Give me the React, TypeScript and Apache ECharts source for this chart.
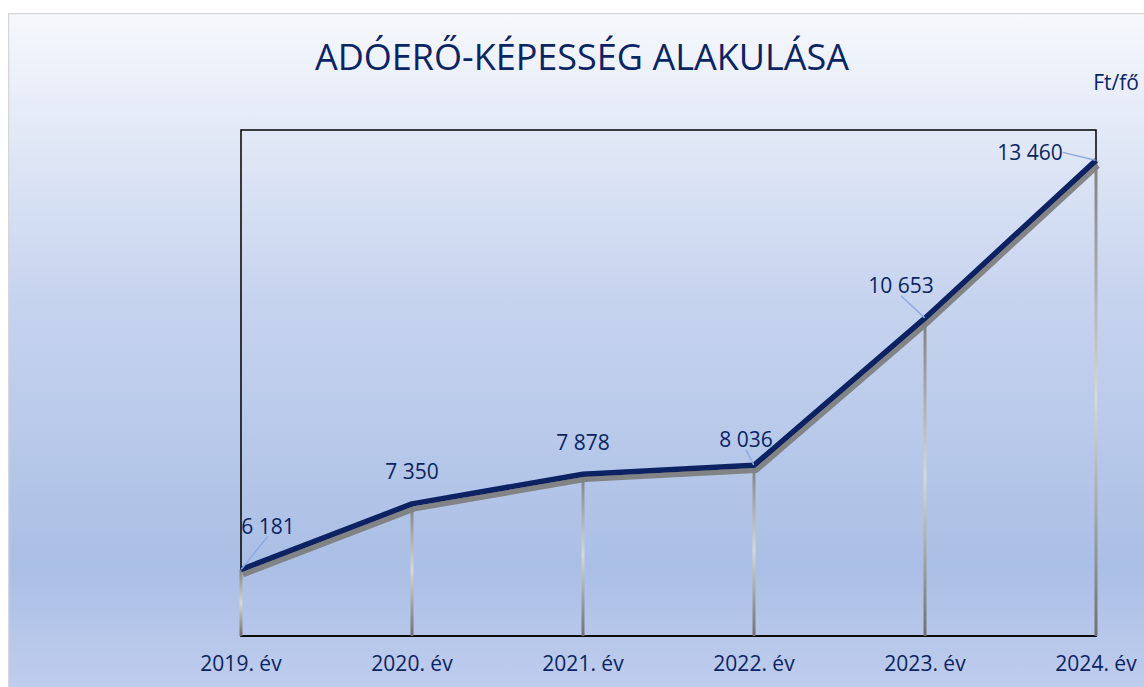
import React, { useEffect, useRef } from "react";
import * as echarts from "echarts";

const categories = ["2019. év", "2020. év", "2021. év", "2022. év", "2023. év", "2024. év"];
const values = [6181, 7350, 7878, 8036, 10653, 13460];
const labelTexts = ["6 181", "7 350", "7 878", "8 036", "10 653", "13 460"];
const labelShifts = [
  [27, -28],
  [0, -17],
  [0, -16],
  [-8, -10],
  [-24, -17],
  [-66, 8],
];
const leaderShown = [true, false, false, true, true, true];

const NAVY = "#0b2462";
const FONT = "'Open Sans', 'Noto Sans', sans-serif";

export default function App() {
  const ref = useRef<HTMLDivElement>(null);
  useEffect(() => {
    if (!ref.current) return;
    const chart = echarts.init(ref.current, null, { renderer: "svg" });
    const dropGrad = new echarts.graphic.LinearGradient(0, 0, 0, 1, [
      { offset: 0, color: "#808080" },
      { offset: 0.5, color: "#d8d8d8" },
      { offset: 1, color: "#707070" },
    ]);
    chart.setOption({
      animation: false,
      backgroundColor: new echarts.graphic.LinearGradient(0, 0, 0, 1, [
        { offset: 0, color: "#f6f8fc" },
        { offset: 0.42, color: "#c7d4ef" },
        { offset: 0.82, color: "#aabfe5" },
        { offset: 1, color: "#bfcdee" },
      ]),
      textStyle: { fontFamily: FONT },
      title: {
        text: "ADÓERŐ-KÉPESSÉG ALAKULÁSA",
        left: 569,
        top: 20,
        textAlign: "center",
        textStyle: { color: NAVY, fontSize: 36, fontWeight: "normal", fontFamily: FONT },
      },
      graphic: [
        {
          type: "line",
          shape: { x1: 0.5, y1: 0.5, x2: 0.5, y2: 700 },
          style: { stroke: "#d6d6d6", lineWidth: 1.5 },
        },
        {
          type: "line",
          shape: { x1: 0, y1: 0.5, x2: 1200, y2: 0.5 },
          style: { stroke: "#d6d6d6", lineWidth: 1.5 },
        },
        {
          type: "text",
          right: 5,
          top: 58,
          style: { text: "Ft/fő", fill: NAVY, fontSize: 21, fontFamily: FONT },
        },
      ],
      grid: {
        left: 233,
        right: 48,
        top: 117,
        bottom: 51,
        show: true,
        borderColor: "#000",
        borderWidth: 1.5,
        backgroundColor: "transparent",
      },
      xAxis: {
        type: "category",
        data: categories,
        boundaryGap: false,
        axisLine: { show: true, lineStyle: { color: "#000", width: 1.5 } },
        axisTick: { show: false },
        axisLabel: { color: NAVY, fontSize: 21, margin: 16, fontFamily: FONT },
        splitLine: { show: false },
      },
      yAxis: {
        type: "value",
        min: 5000,
        max: 14000,
        show: false,
        splitLine: { show: false },
      },
      series: [
        {
          type: "bar",
          data: values,
          barWidth: 3,
          itemStyle: { color: dropGrad },
          silent: true,
          z: 1,
        },
        {
          type: "line",
          data: values.map((v, i) => ({
            value: v,
            labelLine: { show: leaderShown[i] },
          })),
          symbol: "circle",
          symbolSize: 1,
          showSymbol: true,
          itemStyle: { color: "rgba(10,36,99,0)" },
          lineStyle: {
            color: "#0a2463",
            width: 5.5,
            shadowColor: "rgba(128,128,128,0.95)",
            shadowOffsetX: 2,
            shadowOffsetY: 5,
            shadowBlur: 0,
          },
          z: 3,
          label: {
            show: true,
            position: "top",
            distance: 5,
            color: NAVY,
            fontSize: 21,
            fontFamily: FONT,
            formatter: (p: any) => labelTexts[p.dataIndex],
          },
          labelLine: {
            show: true,
            lineStyle: { color: "#8eaae2", width: 1.5 },
          },
          labelLayout: (p: any) => ({
            dx: labelShifts[p.dataIndex][0],
            dy: labelShifts[p.dataIndex][1],
          }),
        },
      ],
    });
    return () => chart.dispose();
  }, []);
  return (
    <div
      ref={ref}
      style={{ position: "absolute", left: 8, top: 13, width: 1136, height: 674 }}
    />
  );
}
